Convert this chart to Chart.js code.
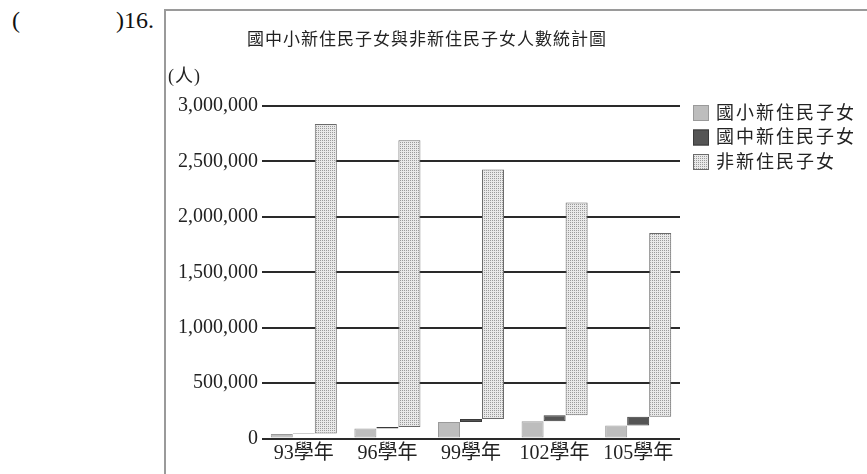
<!DOCTYPE html>
<html>
<head>
<meta charset="utf-8">
<script src="https://cdn.jsdelivr.net/npm/chart.js@4"></script>
<style>
  html, body { margin: 0; padding: 0; background: #fff; }
  #wrap { position: relative; width: 867px; height: 474px; overflow: hidden; }
  #chart { position: absolute; left: 0; top: 0; }
  .q { position: absolute; top: 7px; font: 24px "Liberation Serif", serif; color: #111; }
  #frame { position: absolute; left: 164px; top: 9px; width: 710px; height: 480px;
           border-left: 2px solid #9a9a9a; border-top: 2px solid #9a9a9a; }
</style>
</head>
<body>
<div id="wrap">
  <div class="q" style="left:12px">(</div>
  <div class="q" style="left:116px">)16.</div>
  <div id="frame"></div>
  <canvas id="chart" width="867" height="474"></canvas>
</div>
<script>
const categories = ["93學年", "96學年", "99學年", "102學年", "105學年"];
const seriesNames = ["國小新住民子女", "國中新住民子女", "非新住民子女"];
const newElem = [40000, 90000, 148000, 156000, 117000];
const newJunior = [6000, 13000, 28000, 53000, 79000];
const nonNew = [2792000, 2588000, 2251000, 1920000, 1659000];
const yTicks = [0, 500000, 1000000, 1500000, 2000000, 2500000, 3000000];

const FONT = '"Liberation Serif", "Noto Sans CJK TC", serif';

// dotted fill for the third series
function dotPattern() {
  const c = document.createElement("canvas");
  c.width = 2;
  c.height = 2;
  const g = c.getContext("2d");
  g.fillStyle = "#e9e9e9";
  g.fillRect(0, 0, 2, 2);
  g.fillStyle = "#9a9a9a";
  g.fillRect(0, 0, 1, 1);
  return g.createPattern(c, "repeat");
}
const dots = dotPattern();

// each bar floats on top of the previous one
const elemRange = newElem.map(v => [0, v]);
const juniorRange = newJunior.map((v, i) => [newElem[i], newElem[i] + v]);
const nonRange = nonNew.map((v, i) => {
  const s = newElem[i] + newJunior[i];
  return [s, s + v];
});

const extras = {
  id: "extras",
  afterDraw(chart) {
    const ctx = chart.ctx;
    ctx.save();
    ctx.fillStyle = "#222";
    ctx.textBaseline = "middle";
    // title
    ctx.font = "17px " + FONT;
    ctx.letterSpacing = "1px";
    ctx.textAlign = "center";
    ctx.fillText("國中小新住民子女與非新住民子女人數統計圖", 427, 41);
    // unit
    ctx.font = "18px " + FONT;
    ctx.letterSpacing = "1px";
    ctx.textAlign = "left";
    ctx.fillText("(人)", 168, 77);
    // legend
    ctx.font = "18px " + FONT;
    ctx.letterSpacing = "2px";
    chart.data.datasets.forEach((ds, i) => {
      const y = 113 + i * 24.5;
      ctx.fillStyle = ds.backgroundColor;
      ctx.fillRect(693, y - 8, 16, 16);
      ctx.strokeStyle = ds.borderColor;
      ctx.lineWidth = 1;
      ctx.strokeRect(693.5, y - 7.5, 15, 15);
      ctx.fillStyle = "#222";
      ctx.fillText(ds.label, 716, y + 1);
    });
    ctx.restore();
  },
};

new Chart(document.getElementById("chart"), {
  type: "bar",
  data: {
    labels: categories,
    datasets: [
      { label: seriesNames[0], data: elemRange, backgroundColor: "#bdbdbd", borderColor: "#9a9a9a" },
      { label: seriesNames[1], data: juniorRange, backgroundColor: "#555555", borderColor: "#3a3a3a" },
      { label: seriesNames[2], data: nonRange, backgroundColor: dots, borderColor: "#6a6a6a" },
    ],
  },
  options: {
    responsive: false,
    animation: false,
    layout: { padding: { left: 165, right: 187, top: 106, bottom: 0 } },
    datasets: {
      bar: { borderWidth: 1, borderSkipped: false, barPercentage: 1, categoryPercentage: 0.79 },
    },
    plugins: { legend: { display: false }, title: { display: false }, tooltip: { enabled: false } },
    scales: {
      x: {
        grid: { display: false, drawTicks: false },
        border: { display: false },
        ticks: { color: "#222", font: { family: FONT, size: 20 }, padding: 3 },
        afterFit(scale) { scale.height = 35.5; },
      },
      y: {
        min: 0,
        max: 3000000,
        afterBuildTicks(scale) { scale.ticks = yTicks.map(v => ({ value: v })); },
        grid: { color: "#2a2a2a", lineWidth: 2, drawTicks: false },
        border: { display: false },
        ticks: {
          color: "#222",
          font: { family: FONT, size: 20 },
          padding: 4,
          callback: v => v.toLocaleString("en-US"),
        },
        afterFit(scale) { scale.width = 97; },
      },
    },
  },
  plugins: [extras],
});
</script>
</body>
</html>
